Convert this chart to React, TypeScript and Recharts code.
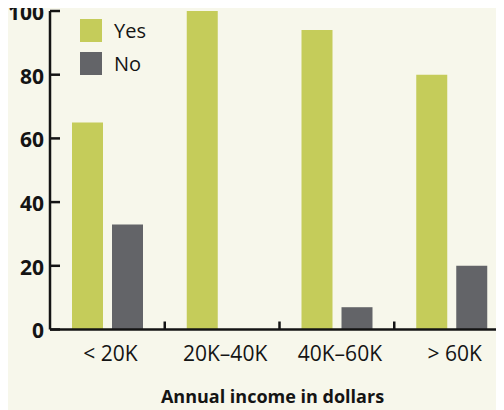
import React from 'react';
import { BarChart, Bar, XAxis, YAxis, Legend, Label } from 'recharts';

const categories = ['< 20K', '20K–40K', '40K–60K', '> 60K'];
const yesValues = [65, 100, 94, 80];
const noValues = [33, 0, 7, 20];
const yTicks = [0, 20, 40, 60, 80, 100];
const seriesOrder = ['Yes', 'No'];

const data = categories.map((c, i) => ({ name: c, Yes: yesValues[i], No: noValues[i] }));

const BG = '#f7f7eb';
const GREEN = '#c5cc5a';
const GREY = '#636468';
const INK = '#141414';
const FONT = '"Open Sans", sans-serif';
const X_TICK_MARGIN = 16.5;

const XTick = (props: any) => {
  const { x, y, payload, index } = props;
  const half = payload.offset ?? 57.375;
  const bx = payload.coordinate - half;
  const axisY = y - X_TICK_MARGIN;
  return (
    <g>
      {index > 0 && (
        <line x1={bx} x2={bx} y1={axisY} y2={axisY - 8} stroke={INK} strokeWidth={2.5} />
      )}
      <text x={x + 3} y={y} dy="0.71em" textAnchor="middle" fill={INK} fontSize={21} fontFamily={FONT}>
        {payload.value}
      </text>
    </g>
  );
};

const YTick = (props: any) => {
  const { x, y, payload } = props;
  return (
    <text x={x} y={y + 1.5} dy="0.355em" textAnchor="end" fill={INK} fontSize={21} fontWeight={700} fontFamily={FONT}>
      {payload.value}
    </text>
  );
};

const LegendContent = (props: any) => {
  const { payload } = props;
  const items = (payload || []).slice().sort(
    (a: any, b: any) => seriesOrder.indexOf(a.value) - seriesOrder.indexOf(b.value)
  );
  return (
    <div style={{ fontFamily: FONT }}>
      {items.map((p: any) => (
        <div key={p.value} style={{ display: 'flex', alignItems: 'center', height: 23, marginBottom: 10 }}>
          <div style={{ width: 22, height: 23, background: p.color }} />
          <span style={{ marginLeft: 12, fontSize: 20, color: INK }}>{p.value}</span>
        </div>
      ))}
    </div>
  );
};

export default function App() {
  return (
    <div style={{ margin: '-8px 0 0 -8px', width: 504, height: 410, overflow: 'hidden', background: BG }}>
      <BarChart
        width={509}
        height={410}
        data={data}
        margin={{ top: 11, right: 0, bottom: 0, left: 0 }}
        barSize={31}
        barGap={9}
        style={{ background: BG }}
      >
        <XAxis
          dataKey="name"
          height={80.5}
          tickSize={0}
          tickLine={false}
          tickMargin={X_TICK_MARGIN}
          tick={<XTick />}
          axisLine={{ stroke: INK, strokeWidth: 2.5 }}
        >
          <Label
            value="Annual income in dollars"
            position="insideBottom"
            offset={7}
            dx={-7}
            style={{ fontWeight: 700, fontSize: 18, fill: INK, fontFamily: FONT }}
          />
        </XAxis>
        <YAxis
          width={50}
          domain={[0, 100]}
          ticks={yTicks}
          tickSize={-10}
          tickMargin={16}
          axisLine={{ stroke: INK, strokeWidth: 2.5 }}
          tickLine={{ stroke: INK, strokeWidth: 2.5 }}
          tick={<YTick />}
        />
        <Legend
          layout="vertical"
          align="center"
          verticalAlign="middle"
          wrapperStyle={{ top: 19, left: 80, width: 100 }}
          content={<LegendContent />}
        />
        <Bar dataKey="Yes" fill={GREEN} isAnimationActive={false} />
        <Bar dataKey="No" fill={GREY} isAnimationActive={false} />
      </BarChart>
    </div>
  );
}
